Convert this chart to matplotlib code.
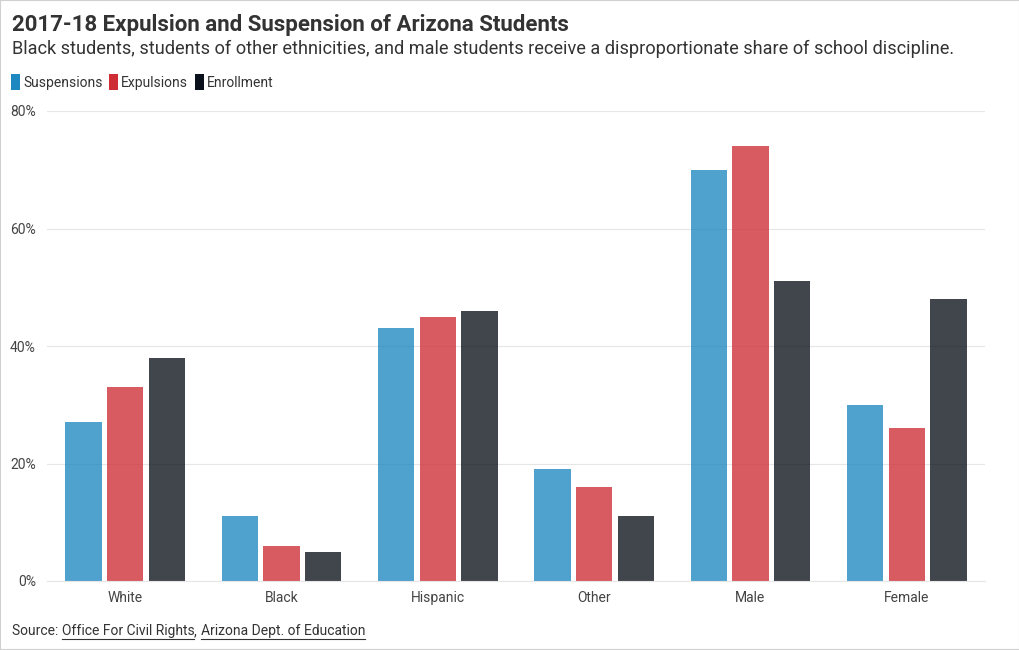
import numpy as np
import matplotlib
matplotlib.use("Agg")
import matplotlib.pyplot as plt
from matplotlib.patches import Patch, Rectangle
from matplotlib.ticker import FuncFormatter

plt.rcParams['font.family'] = ['Roboto', 'DejaVu Sans']

categories = ["White", "Black", "Hispanic", "Other", "Male", "Female"]
suspensions = [27, 11, 43, 19, 70, 30]
expulsions = [33, 6, 45, 16, 74, 26]
enrollment = [38, 5, 46, 11, 51, 48]

series_names = ["Suspensions", "Expulsions", "Enrollment"]
series_colors = ["#1e88c0", "#cf2d36", "#0b111a"]

fig = plt.figure(figsize=(10.2, 6.5), dpi=100)
ax = fig.add_axes([47 / 1020, 1 - 581 / 650, 938 / 1020, 470 / 650])

x = np.arange(len(categories))
bw = 0.232
gap = 0.035
for i, (vals, col) in enumerate(zip([suspensions, expulsions, enrollment], series_colors)):
    ax.bar(x + (i - 1) * (bw + gap), vals, width=bw, color=col, alpha=0.78, zorder=2)

ax.set_xlim(-0.5, len(categories) - 0.5)
ax.set_ylim(0, 80)
ax.set_yticks([0, 20, 40, 60, 80])
ax.yaxis.set_major_formatter(FuncFormatter(lambda v, p: f"{int(v)}%"))
ax.set_xticks(x)
ax.set_xticklabels(categories)
ax.grid(axis='y', color='#e6e6e6', linewidth=0.8, zorder=0)
for s in ['top', 'right', 'left']:
    ax.spines[s].set_visible(False)
ax.spines['bottom'].set_color('#e6e6e6')
ax.tick_params(axis='both', length=0, labelsize=10, labelcolor='#444444')
ax.tick_params(axis='x', pad=7)
ax.tick_params(axis='y', pad=8)

fig.text(12 / 1020, 1 - 25 / 650, "2017-18 Expulsion and Suspension of Arizona Students",
         fontsize=16, fontweight='bold', color='#333333', va='center')
fig.text(12 / 1020, 1 - 49 / 650,
         "Black students, students of other ethnicities, and male students receive a disproportionate share of school discipline.",
         fontsize=13.1, color='#333333', va='center')

handles = [Patch(facecolor=c, edgecolor='none') for c in series_colors]
fig.legend(handles, series_names, loc='center left', bbox_to_anchor=(-2 / 1020, 1 - 82 / 650),
           ncol=3, frameon=False, fontsize=10, handlelength=0.7, handleheight=1.3,
           handletextpad=0.2, columnspacing=0.45, labelcolor='#333333')

# source line with underlined links
fig.canvas.draw()
renderer = fig.canvas.get_renderer()
parts = [("Source: ", False), ("Office For Civil Rights", True), (", ", False),
         ("Arizona Dept. of Education", True)]
xpos = 12
ypos = 1 - 631 / 650
for txt, underline in parts:
    t = fig.text(xpos / 1020, ypos, txt, fontsize=10, color='#333333', va='center')
    bb = t.get_window_extent(renderer)
    if underline:
        fig.add_artist(plt.Line2D([bb.x0 / 1020, bb.x1 / 1020],
                                  [(bb.y0 - 1) / 650, (bb.y0 - 1) / 650],
                                  color='#333333', linewidth=0.8))
    xpos = bb.x1

fig.add_artist(Rectangle((0, 0), 1, 1, transform=fig.transFigure, fill=False,
                         edgecolor='#d0d0d0', linewidth=1.5))

fig.savefig("out.png", dpi=100)
